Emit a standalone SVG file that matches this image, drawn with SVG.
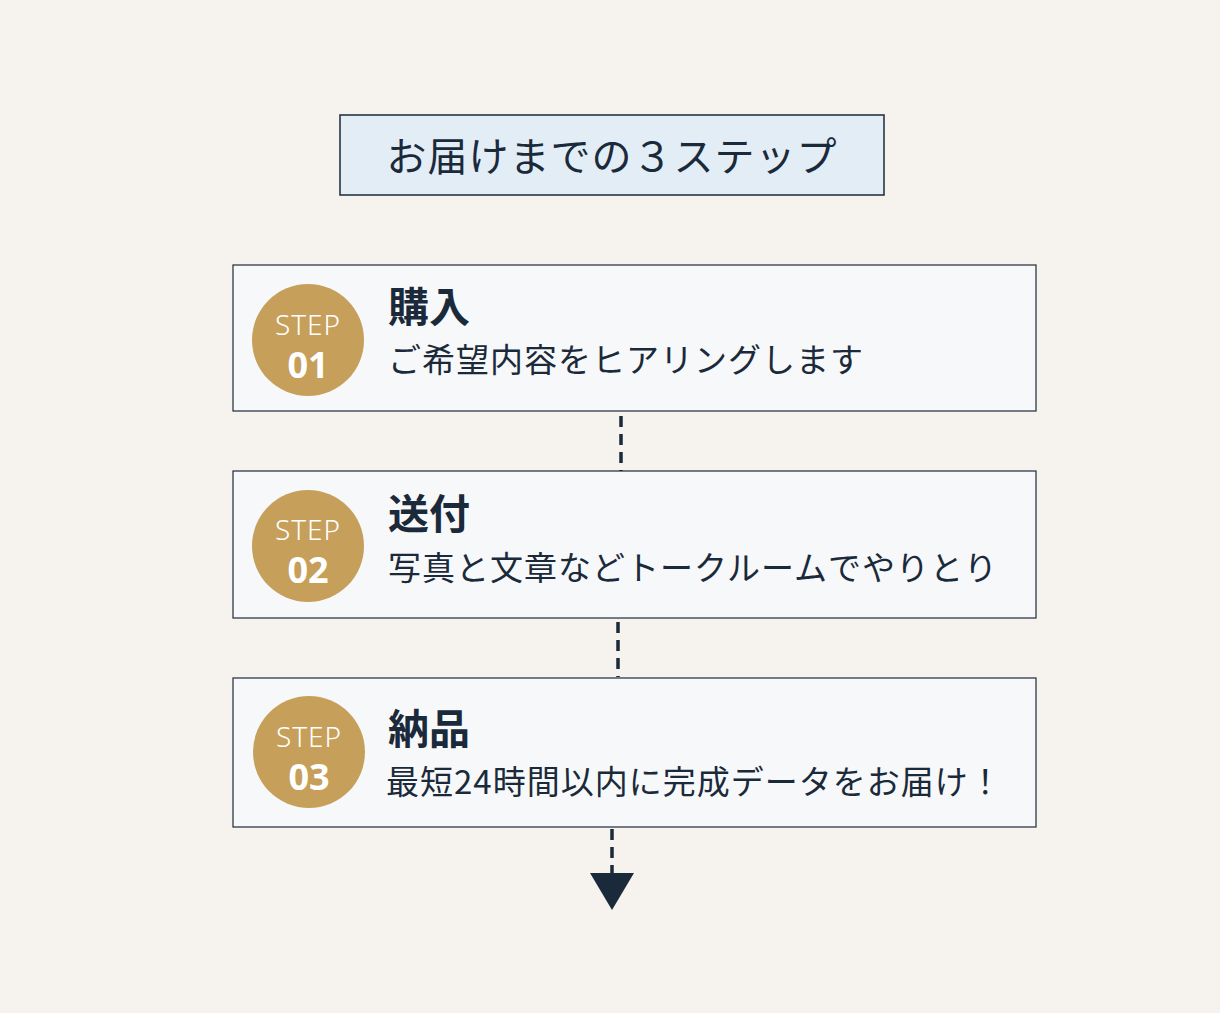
<svg xmlns="http://www.w3.org/2000/svg" width="1220" height="1013" viewBox="0 0 1220 1013">
<style>
.box{fill:#f7f8f9;stroke:#1b2a3a;stroke-width:1.2}
.circ{fill:#c6a05a}
.step{font-family:"Noto Sans","Noto Sans CJK JP",sans-serif;fill:#fff;font-size:28px;text-anchor:middle;font-weight:300;letter-spacing:1px}
.num{font-family:"Noto Sans","Noto Sans CJK JP",sans-serif;fill:#fff;font-size:36px;font-weight:bold;text-anchor:middle}
.h{font-family:"Noto Sans CJK JP",sans-serif;fill:#1b2a3a;font-size:41px;font-weight:bold}
.d{font-family:"Noto Sans CJK JP",sans-serif;fill:#1b2a3a;font-size:33px;letter-spacing:1px}
.con{stroke:#1b2a3a;stroke-width:3.5;stroke-dasharray:11,7;fill:none}
</style>
<rect width="1220" height="1013" fill="#f6f3ef"/>
<g id="title">
<rect x="340" y="115" width="544" height="80" fill="#e3edf5" stroke="#1b2a3a" stroke-width="1.5"/>
<text x="612" y="171" text-anchor="middle" font-family="'Noto Sans CJK JP',sans-serif" font-size="40" letter-spacing="1" fill="#1b2a3a">お届けまでの３ステップ</text>
</g>
<g id="connectors">
<line class="con" x1="621" y1="416" x2="621" y2="471"/>
<line class="con" x1="618" y1="622" x2="618" y2="677"/>
<line class="con" x1="612" y1="829" x2="612" y2="876"/>
<polygon points="590,873 634,873 612,910" fill="#1b2a3a"/>
</g>
<g id="step1">
<rect class="box" x="233" y="265" width="803" height="146"/>
<circle class="circ" cx="308" cy="340" r="56"/>
<text class="step" x="308" y="335">STEP</text>
<text class="num" x="308" y="378">01</text>
<text class="h" x="388" y="322">購入</text>
<text class="d" x="388" y="372">ご希望内容をヒアリングします</text>
</g>
<g id="step2">
<rect class="box" x="233" y="471" width="803" height="147"/>
<circle class="circ" cx="308" cy="546" r="56"/>
<text class="step" x="308" y="540">STEP</text>
<text class="num" x="308" y="583">02</text>
<text class="h" x="388" y="529">送付</text>
<text class="d" x="388" y="580">写真と文章などトークルームでやりとり</text>
</g>
<g id="step3">
<rect class="box" x="233" y="678" width="803" height="149"/>
<circle class="circ" cx="309" cy="752" r="56"/>
<text class="step" x="309" y="747">STEP</text>
<text class="num" x="309" y="790">03</text>
<text class="h" x="388" y="744">納品</text>
<text class="d" x="386" y="794">最短24時間以内に完成データをお届け！</text>
</g>
</svg>
